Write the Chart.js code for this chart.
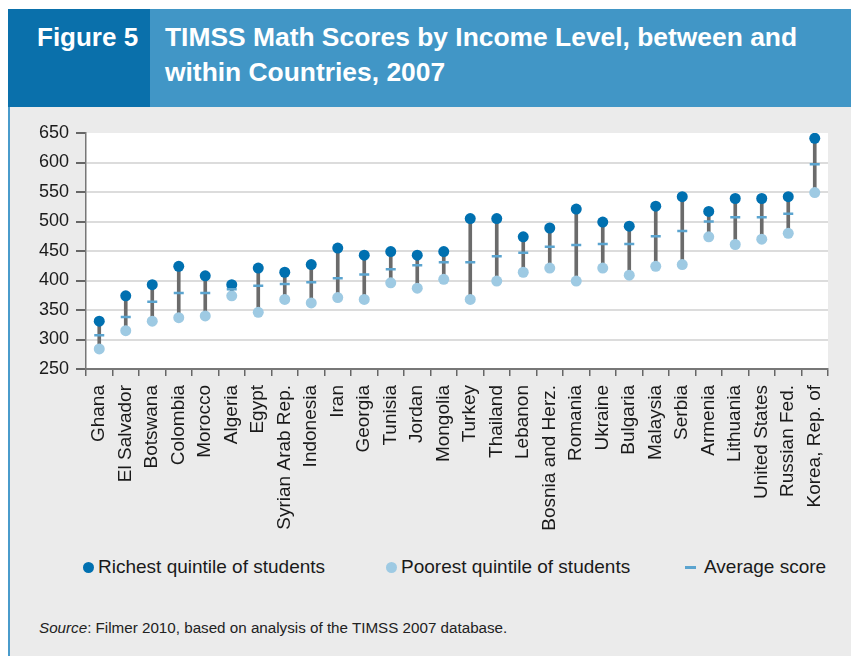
<!DOCTYPE html>
<html><head><meta charset="utf-8">
<script src="https://cdn.jsdelivr.net/npm/chart.js@4"></script>
<style>
html,body{margin:0;padding:0;background:#fff;width:851px;height:656px;overflow:hidden;font-family:"Liberation Sans",Arial,sans-serif;}
#hdr{position:absolute;left:8px;top:9px;width:843px;height:98px;background:#4196c6;}
#fig{position:absolute;left:0;top:0;width:142px;height:98px;background:#0a70ab;}
.ht{position:absolute;color:#fff;font-weight:bold;font-size:26px;line-height:35px;white-space:nowrap;}
#panel{position:absolute;left:8px;top:107px;width:843px;height:549px;background:#ebebeb;border-left:2px solid #4a9bcb;box-sizing:border-box}
#wrap{position:absolute;left:0;top:107px;width:851px;height:440px}
#legend{position:absolute;left:0;top:555px;width:851px;height:24px}
.li{position:absolute;top:0;height:24px;line-height:24px;font-size:19px;color:#1a1a1a;white-space:nowrap}
.mk{position:absolute;}
#src{position:absolute;left:39px;top:619px;font-size:15.2px;line-height:17px;color:#222;white-space:nowrap}
</style></head>
<body>
<div id="hdr"><div id="fig"></div>
<div class="ht" style="left:29px;top:11px">Figure 5</div>
<div class="ht" style="left:157px;top:11px;font-size:26.4px">TIMSS Math Scores by Income Level, between and<br>within Countries, 2007</div>
</div>
<div id="panel"></div>
<div id="wrap"><canvas id="c" width="851" height="440"></canvas></div>
<div id="legend"></div>
<div id="src"><i>Source</i>: Filmer 2010, based on analysis of the TIMSS 2007 database.</div>
<script>
const countries = ["Ghana","El Salvador","Botswana","Colombia","Morocco","Algeria","Egypt","Syrian Arab Rep.","Indonesia","Iran","Georgia","Tunisia","Jordan","Mongolia","Turkey","Thailand","Lebanon","Bosnia and Herz.","Romania","Ukraine","Bulgaria","Malaysia","Serbia","Armenia","Lithuania","United States","Russian Fed.","Korea, Rep. of"];
const richest = [331,374,393,424,408,393,421,414,427,455,443,449,443,449,505,505,474,489,521,499,492,526,542,517,539,539,542,641];
const poorest = [284,315,331,337,340,374,346,368,362,371,368,396,387,402,368,399,414,421,399,421,409,424,427,474,461,470,480,549];
const average = [307,338,364,379,379,385,391,394,397,404,410,419,426,431,431,441,447,457,460,462,462,475,484,500,507,507,513,597];
const yTicks = [250,300,350,400,450,500,550,600,650];

const range = poorest.map((p,i)=>[p,richest[i]]);

const bgPlugin = {id:'bg', beforeDraw(c){const {ctx, chartArea:a}=c; ctx.save(); ctx.fillStyle='#ffffff'; ctx.fillRect(a.left,a.top,a.right-a.left,a.bottom-a.top); ctx.restore();}};

Chart.defaults.font.family = '"Liberation Sans", Arial, sans-serif';
Chart.defaults.color = '#1a1a1a';

const chart = new Chart(document.getElementById('c'), {
  type: 'bar',
  data: {
    labels: countries,
    datasets: [
      {type:'line', label:'Richest quintile of students', data: richest, showLine:false, pointStyle:'circle', pointRadius:5.5, pointHoverRadius:5.5, backgroundColor:'#0070b0', borderColor:'#0070b0', borderWidth:0, order:1},
      {type:'line', label:'Poorest quintile of students', data: poorest, showLine:false, pointStyle:'circle', pointRadius:5.5, pointHoverRadius:5.5, backgroundColor:'#9ecae3', borderColor:'#9ecae3', borderWidth:0, order:2},
      {type:'line', label:'Average score', data: average, showLine:false, pointStyle:'line', pointRadius:5, pointHoverRadius:5, backgroundColor:'#5ba4cf', borderColor:'#5ba4cf', borderWidth:2.5, order:0},
      {type:'bar', label:'range', data: range, backgroundColor:'#6b6b6b', barThickness:3, order:5}
    ]
  },
  options: {
    responsive:false, animation:false,
    layout:{padding:{left:0, right:23, top:26, bottom:0}},
    plugins:{ tooltip:{enabled:false}, legend:{display:false} },
    scales:{
      x:{
        offset:true,
        grid:{drawOnChartArea:false, offset:true, tickLength:7, tickColor:'#666', lineWidth:1.5},
        border:{color:'#777', width:2},
        ticks:{autoSkip:false, maxRotation:90, minRotation:90, padding:9, font:{size:19}, color:'#1a1a1a'},
        afterFit:(s)=>{s.height=178;}
      },
      y:{
        min:250, max:650,
        afterBuildTicks:(s)=>{s.ticks = yTicks.map(v=>({value:v}));},
        grid:{color:(ctx)=> (ctx.tick && ctx.tick.value===650) ? 'rgba(0,0,0,0)' : '#dcdcdc', lineWidth:2, tickLength:10, tickColor:'#666'},
        border:{color:'#777', width:1.5},
        ticks:{padding:7, font:{size:18}, color:'#1a1a1a'},
        afterFit:(s)=>{s.width=86;}
      }
    }
  },
  plugins:[bgPlugin]
});

// HTML legend built from the chart's datasets
const legendLeft = [82, 385, 684];
const leg = document.getElementById('legend');
[0,1,2].forEach((di, k)=>{
  const ds = chart.data.datasets[di];
  const item = document.createElement('div');
  item.className = 'li';
  item.style.left = legendLeft[k] + 'px';
  const mk = document.createElement('span');
  mk.className = 'mk';
  if (ds.pointStyle === 'line') {
    mk.style.cssText = 'left:1px;top:10.5px;width:11px;height:3px;background:'+ds.borderColor;
  } else {
    mk.style.cssText = 'left:1px;top:6.5px;width:11px;height:11px;border-radius:50%;background:'+ds.backgroundColor;
  }
  item.appendChild(mk);
  const tx = document.createElement('span');
  tx.style.cssText = 'position:absolute;left:' + (ds.pointStyle==='line' ? 20 : 16) + 'px;top:0';
  tx.textContent = ds.label;
  item.appendChild(tx);
  leg.appendChild(item);
});
</script>
</body></html>
